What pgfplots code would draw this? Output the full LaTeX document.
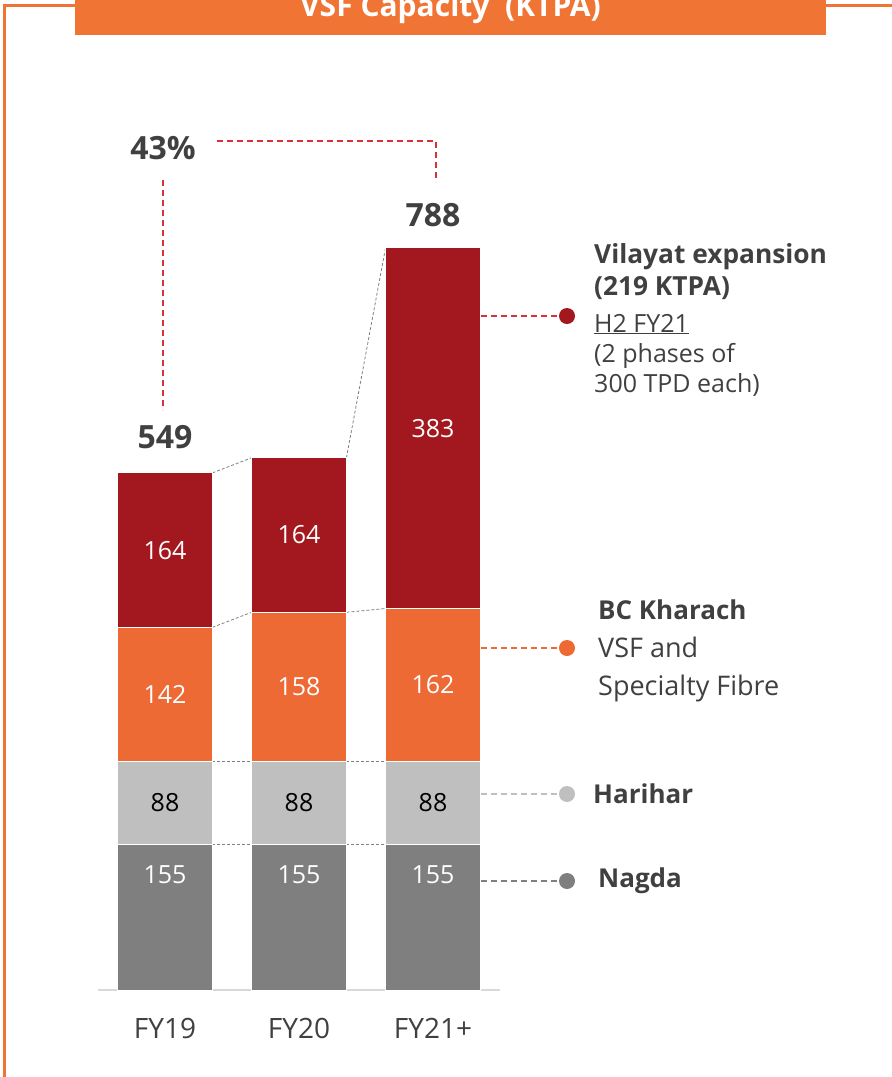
\documentclass[border=0pt]{standalone}
\usepackage{pgfplots}
\pgfplotsset{compat=1.18}
\usepackage{fontspec}
\setmainfont{Open Sans}
\definecolor{vil}{HTML}{A3181F}
\definecolor{bck}{HTML}{ED6A35}
\definecolor{har}{HTML}{BFBFBF}
\definecolor{nag}{HTML}{7F7F7F}
\definecolor{txt}{HTML}{404040}
\definecolor{ttl}{HTML}{F07434}
\definecolor{dred}{HTML}{D8313A}
\definecolor{axl}{HTML}{D9D9D9}
\tikzset{conn/.style={gray, dash pattern=on 3pt off 2pt, line width=0.8pt},
  inlab/.style={font=\fontsize{25}{30}\selectfont},
  ann/.style={dash pattern=on 6pt off 4pt, line width=1.2pt}}
\begin{document}
\begin{tikzpicture}
\path[use as bounding box] (0pt,0pt) rectangle (892pt,-1077pt);
\begin{axis}[
  at={(98pt,-990pt)}, anchor=south west,
  scale only axis, width=402pt, height=990pt,
  xmin=-0.5, xmax=2.5, ymin=0, ymax=1051,
  ybar stacked, bar width=95pt,
  axis x line*=bottom, axis y line=none,
  x axis line style={draw=axl, line width=2pt, -},
  xtick={0,1,2}, xticklabels={FY19,FY20,FY21+},
  major tick length=0pt,
  xticklabel style={font=\fontsize{28}{32}\selectfont, text=txt, anchor=north, yshift=-25pt},
  clip=false,
]
\addplot[fill=nag, draw=white, line width=1pt] coordinates {(0,155) (1,155) (2,155)};
\addplot[fill=har, draw=white, line width=1pt] coordinates {(0,88) (1,88) (2,88)};
\addplot[fill=bck, draw=white, line width=1pt] coordinates {(0,142) (1,158) (2,162)};
\addplot[fill=vil, draw=white, line width=1pt] coordinates {(0,164) (1,164) (2,383)};
\draw[conn] (axis cs:0.354,155) -- (axis cs:0.646,155);
\draw[conn] (axis cs:1.354,155) -- (axis cs:1.646,155);
\draw[conn] (axis cs:0.354,243) -- (axis cs:0.646,243);
\draw[conn] (axis cs:1.354,243) -- (axis cs:1.646,243);
\draw[conn] (axis cs:0.354,385) -- (axis cs:0.646,401);
\draw[conn] (axis cs:1.354,401) -- (axis cs:1.646,405);
\draw[conn] (axis cs:0.354,549) -- (axis cs:0.646,565);
\draw[conn] (axis cs:1.354,565) -- (axis cs:1.646,788);
\coordinate (n0) at (axis cs:0,122);
\coordinate (n1) at (axis cs:1,122);
\coordinate (n2) at (axis cs:2,122);
\coordinate (h0) at (axis cs:0,199);
\coordinate (h1) at (axis cs:1,199);
\coordinate (h2) at (axis cs:2,199);
\coordinate (b0) at (axis cs:0,314);
\coordinate (b1) at (axis cs:1,322);
\coordinate (b2) at (axis cs:2,324);
\coordinate (v0) at (axis cs:0,467);
\coordinate (v1) at (axis cs:1,483);
\coordinate (v2) at (axis cs:2,596);
\coordinate (t0) at (axis cs:0,549);
\coordinate (t2) at (axis cs:2,788);
\end{axis}
\node[inlab, white] at (n0) {155};
\node[inlab, white] at (n1) {155};
\node[inlab, white] at (n2) {155};
\node[inlab, black] at (h0) {88};
\node[inlab, black] at (h1) {88};
\node[inlab, black] at (h2) {88};
\node[inlab, white] at (b0) {142};
\node[inlab, white] at (b1) {158};
\node[inlab, white] at (b2) {162};
\node[inlab, white] at (v0) {164};
\node[inlab, white] at (v1) {164};
\node[inlab, white] at (v2) {383};
\node[anchor=base, inner sep=0pt, text=txt, font=\fontsize{32}{38}\selectfont\bfseries, yshift=24pt] at (t0) {549};
\node[anchor=base, inner sep=0pt, text=txt, font=\fontsize{32}{38}\selectfont\bfseries, yshift=21pt] at (t2) {788};
\begin{scope}[x=1pt, y=-1pt]
\fill[ttl] (75,-10) rectangle (826,35);
\node[anchor=base, white, font=\fontsize{30}{36}\selectfont\bfseries, inner sep=0pt] at (450.5,16) {VSF Capacity\ \ (KTPA)};
\draw[ttl, line width=3pt] (75,5) -- (4,5) -- (4,1085);
\draw[ttl, line width=3pt] (826,5) -- (900,5);
\node[anchor=base, text=txt, font=\fontsize{32}{38}\selectfont\bfseries, inner sep=0pt] at (163,159) {43\%};
\draw[dred, ann] (163,180) -- (163,410);
\draw[dred, ann] (217,141) -- (436,141) -- (436,182);
\draw[dred, ann] (481,316) -- (567,316);
\fill[vil] (567,316) circle (8);
\draw[bck, ann] (481,648) -- (567,648);
\fill[bck] (567,648) circle (8);
\draw[har, ann] (481,794) -- (567,794);
\fill[har] (567,794) circle (8);
\draw[nag, ann] (481,881) -- (567,881);
\fill[nag] (567,881) circle (8);
\node[anchor=base west, inner sep=0pt, text=txt, font=\fontsize{26.3}{30}\selectfont\bfseries] at (594,263) {Vilayat expansion};
\node[anchor=base west, inner sep=0pt, text=txt, font=\fontsize{26.3}{30}\selectfont\bfseries] at (594,295) {(219 KTPA)};
\node[anchor=base west, inner sep=0pt, text=txt, font=\fontsize{25}{30}\selectfont] at (594,332) {\underline{H2 FY21}};
\node[anchor=base west, inner sep=0pt, text=txt, font=\fontsize{25}{30}\selectfont] at (594,362) {(2 phases of};
\node[anchor=base west, inner sep=0pt, text=txt, font=\fontsize{25}{30}\selectfont] at (594,392) {300 TPD each)};
\node[anchor=base west, inner sep=0pt, text=txt, font=\fontsize{26}{30}\selectfont\bfseries] at (598,619) {BC Kharach};
\node[anchor=base west, inner sep=0pt, text=txt, font=\fontsize{27}{30}\selectfont] at (598,657) {VSF and};
\node[anchor=base west, inner sep=0pt, text=txt, font=\fontsize{27}{30}\selectfont] at (598,695) {Specialty Fibre};
\node[anchor=base west, inner sep=0pt, text=txt, font=\fontsize{26}{30}\selectfont\bfseries] at (593,803) {Harihar};
\node[anchor=base west, inner sep=0pt, text=txt, font=\fontsize{26}{30}\selectfont\bfseries] at (598,887) {Nagda};
\end{scope}
\end{tikzpicture}
\end{document}
